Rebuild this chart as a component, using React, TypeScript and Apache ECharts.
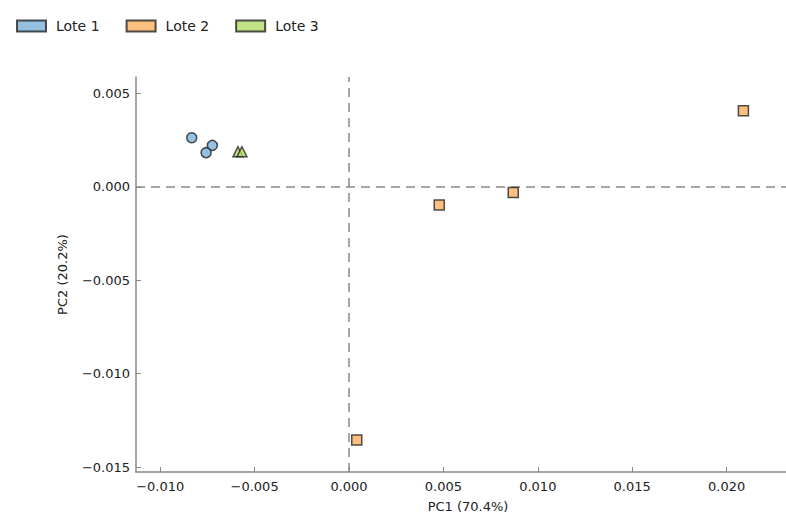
import React, { useEffect, useRef } from "react";
import * as echarts from "echarts";

const xTicks = [-0.01, -0.005, 0, 0.005, 0.01, 0.015, 0.02];
const yTicks = [-0.015, -0.01, -0.005, 0, 0.005];

const lote1: number[][] = [
  [-0.00833, 0.00263],
  [-0.00724, 0.00222],
  [-0.00757, 0.00183],
];
const lote2: number[][] = [
  [0.00478, -0.00097],
  [0.0087, -0.0003],
  [0.02089, 0.00408],
  [0.00041, -0.01355],
];
const lote3: number[][] = [
  [-0.00588, 0.00188],
  [-0.00567, 0.00188],
];

const FONT = "DejaVu Sans";
const fmt = (v: number) => (v < 0 ? "\u2212" : "") + Math.abs(v).toFixed(3);

export default function App() {
  const ref = useRef<HTMLDivElement>(null);
  useEffect(() => {
    if (!ref.current) return;
    const chart = echarts.init(ref.current, null, { renderer: "svg" });
    const border = { borderColor: "#222", borderWidth: 1.5 };
    chart.setOption({
      animation: false,
      backgroundColor: "#fff",
      textStyle: { fontFamily: FONT },
      legend: {
        left: 11,
        top: 14,
        icon: "rect",
        itemWidth: 29,
        itemHeight: 11,
        itemGap: 26,
        textStyle: { fontSize: 14, color: "#222", fontFamily: FONT, padding: [0, 0, 0, 5] },
        data: ["Lote 1", "Lote 2", "Lote 3"],
      },
      grid: { left: 136, top: 77, right: 0, bottom: 43, containLabel: false },
      xAxis: {
        type: "value",
        min: -0.011282,
        max: 0.023147,
        name: "PC1 (70.4%)",
        nameLocation: "middle",
        nameGap: 28,
        nameTextStyle: { fontSize: 13, color: "#222", fontFamily: FONT, padding: [0, 0, 0, 14] },
        axisLine: { onZero: false, lineStyle: { color: "#888", width: 1.5 } },
        axisTick: { inside: true, length: 5, customValues: xTicks, lineStyle: { color: "#888" } },
        axisLabel: {
          customValues: xTicks,
          formatter: fmt,
          fontSize: 13,
          color: "#222",
          margin: 8,
          fontFamily: FONT,
        },
        splitLine: { show: false },
      },
      yAxis: {
        type: "value",
        min: -0.015266,
        max: 0.005882,
        name: "PC2 (20.2%)",
        nameLocation: "middle",
        nameGap: 67,
        nameTextStyle: { fontSize: 13, color: "#222", fontFamily: FONT },
        axisLine: { show: true, onZero: false, lineStyle: { color: "#888", width: 1.5 } },
        axisTick: { show: true, inside: true, length: 5, customValues: yTicks, lineStyle: { color: "#888" } },
        axisLabel: {
          customValues: yTicks,
          formatter: fmt,
          fontSize: 13,
          color: "#222",
          margin: 6,
          fontFamily: FONT,
        },
        splitLine: { show: false },
      },
      series: [
        {
          name: "Lote 1",
          type: "scatter",
          symbol: "circle",
          symbolSize: 10,
          itemStyle: { color: "#79b0d9", ...border },
          data: lote1,
          z: 3,
          markLine: {
            silent: true,
            symbol: "none",
            label: { show: false },
            lineStyle: { color: "#888", type: [9, 6], width: 1.5 },
            data: [{ xAxis: 0 }, { yAxis: 0 }],
            z: 1,
          },
        },
        {
          name: "Lote 2",
          type: "scatter",
          symbol: "rect",
          symbolSize: 10,
          itemStyle: { color: "#fdb062", ...border },
          data: lote2,
          z: 3,
        },
        {
          name: "Lote 3",
          type: "scatter",
          symbol: "triangle",
          symbolSize: 10,
          itemStyle: { color: "#b2dc68", ...border },
          data: lote3,
          z: 4,
        },
      ],
    });
    return () => chart.dispose();
  }, []);
  return (
    <div
      ref={ref}
      style={{ position: "fixed", left: 0, top: 0, width: 786, height: 518, background: "#fff", overflow: "hidden" }}
    />
  );
}
